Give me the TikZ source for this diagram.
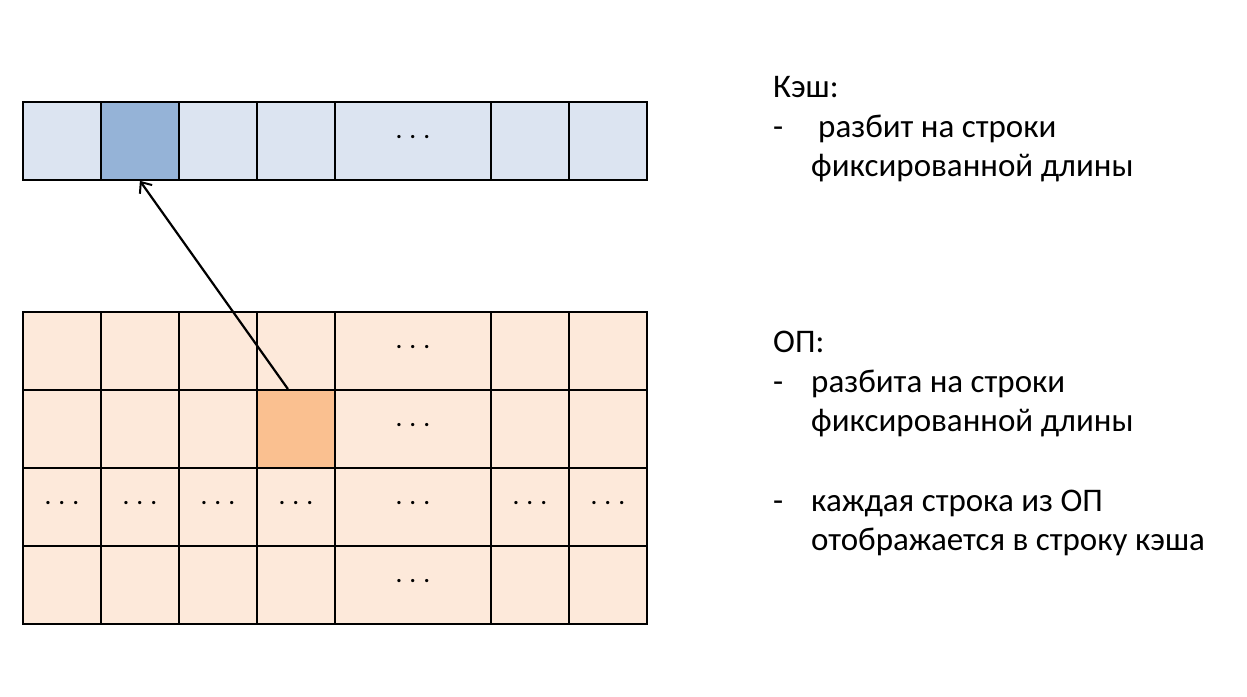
\documentclass[tikz,border=0pt]{standalone}
\usepackage{fontspec}
\setmainfont{Carlito}
\usepackage{tikz}
\usetikzlibrary{arrows.meta, positioning, calc}
\usepackage{xcolor}
\definecolor{cachefill}{RGB}{220,228,241}
\definecolor{cachehit}{RGB}{149,179,215}
\definecolor{memfill}{RGB}{253,233,218}
\definecolor{memhit}{RGB}{250,192,144}

\tikzset{
  cell/.style={draw=black, line width=1.8pt, minimum height=78pt, inner sep=0pt, anchor=north west},
  dotted cell/.style={font=\fontsize{22}{22}\selectfont\bfseries},
  txt/.style={anchor=base west, inner sep=0pt, font=\fontsize{33}{40}\selectfont}
}
\newcommand{\celldots}{\raisebox{7pt}{.\hspace{8pt}.\hspace{8pt}.}}

\begin{document}
\begin{tikzpicture}[x=1pt, y=-1pt]
  \useasboundingbox[fill=white] (0,0) rectangle (1247,696);
  % cache line
  \foreach \i/\x/\w in {1/0/1, 2/1/1, 3/2/1, 4/3/1, 5/4/2, 6/6/1, 7/7/1} {
    \node[cell, fill=cachefill, minimum width=\w*78pt] (c\i) at (22+78*\x, 101) {};
  }
  \node[cell, fill=cachehit, minimum width=78pt] (c2) at (100, 101) {};
  \node[dotted cell] at (c5) {\celldots};
  % main memory
  \foreach \r in {1,...,4} {
    \foreach \i/\x/\w in {1/0/1, 2/1/1, 3/2/1, 4/3/1, 5/4/2, 6/6/1, 7/7/1} {
      \node[cell, fill=memfill, minimum width=\w*78pt] (m\r\i) at (22+78*\x, 311+78*\r-78) {};
    }
  }
  \node[cell, fill=memhit, minimum width=78pt] (m24) at (256, 389) {};
  \foreach \r in {1,2,4} {
    \node[dotted cell] at (m\r5) {\celldots};
  }
  \foreach \i in {1,...,7} {
    \node[dotted cell] at (m3\i) {\celldots};
  }
  % mapping
  \draw[line width=2.2pt, -{Straight Barb[length=9pt, width=15pt, line width=2pt]}]
    ([xshift=-8pt]m24.north) -- (c2.south);
  % text
  \node[txt] (cachehead) at (773, 97) {Кэш:};
  \node[txt] (cachedash) at (773, 137) {-};
  \node[txt] (cache1) at (818, 137) {разбит на строки};
  \node[txt] (cache2) at (811, 176) {фиксированной длины};
  \node[txt] (memhead) at (773, 352) {ОП:};
  \node[txt] (memdash1) at (773, 392) {-};
  \node[txt] (mem1) at (811, 392) {разбита на строки};
  \node[txt] (mem2) at (811, 431) {фиксированной длины};
  \node[txt] (memdash2) at (773, 511) {-};
  \node[txt] (mem3) at (811, 511) {каждая строка из ОП};
  \node[txt] (mem4) at (811, 550) {отображается в строку кэша};
\end{tikzpicture}
\end{document}
